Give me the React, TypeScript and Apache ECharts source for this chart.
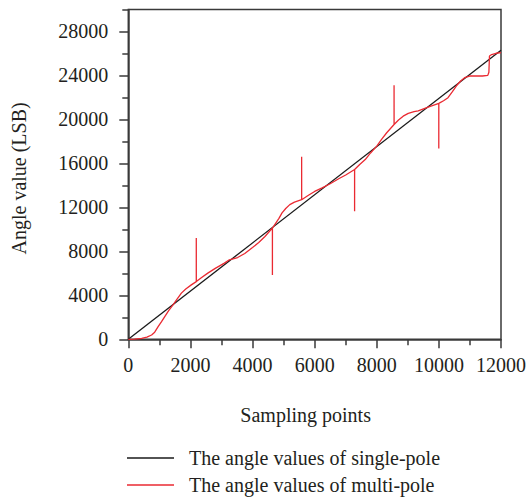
import React, { useEffect, useRef } from "react";
import * as echarts from "echarts";

const FONT = "'Liberation Serif', 'DejaVu Serif', serif";
const TEXT_COLOR = "#231f20";
const AXIS_COLOR = "#3a3a3a";

const seriesNames = ["The angle values of single-pole", "The angle values of multi-pole"];

// single-pole: straight line
const singlePoleX = [0, 12000];
const singlePoleY = [0, 26300];

// multi-pole: wavy curve with single-sample spikes
const multiPoleX = [
  0, 200, 430, 600, 750, 850, 960, 1070, 1174, 1300, 1440, 1570, 1709, 1850, 2029,
  2189, 2189, 2190, 2350, 2560, 2800, 3094, 3254, 3520, 3750, 4000, 4200, 4400,
  4640, 4640, 4641, 4850, 4950, 5069, 5200, 5350, 5581, 5581, 5582, 5800, 6000, 6240, 6500, 6774, 7000,
  7286, 7286, 7287, 7450, 7629, 7800, 8000, 8160, 8320, 8557, 8557, 8558, 8700, 8850, 9014, 9200, 9334, 9654,
  9997, 9997, 9998, 10150, 10294, 10430, 10560, 10700, 10829, 10989, 11200, 11400, 11574,
  11610, 11629, 11700, 11840, 12000,
];
const multiPoleY = [
  0, 20, 90, 200, 390, 650, 1150, 1600, 2060, 2600, 3130, 3650, 4200, 4580, 4950,
  5250, 9210, 5250, 5600, 6020, 6450, 6930, 7230, 7440, 7800, 8350, 8800, 9350,
  10120, 5860, 10120, 11000, 11500, 11900, 12250, 12480, 12700, 16600, 12700, 13100, 13450, 13770, 14150, 14600, 14950,
  15440, 11640, 15440, 15900, 16350, 16950, 17570, 18200, 18790, 19540, 23100, 19540, 19950, 20300, 20550, 20700, 20780, 21120,
  21460, 17355, 21460, 21700, 21980, 22500, 23040, 23500, 23800, 23950, 23970, 23950, 24010,
  24300, 25770, 25900, 26020, 26080,
];

const xMin = 0;
const xMax = 12000;
const xInterval = 2000;
const yMin = 0;
const yMax = 30000;
const yMajorTicks = [0, 4000, 8000, 12000, 16000, 20000, 24000, 28000];
const yMinorTicks = [2000, 6000, 10000, 14000, 18000, 22000, 26000, 30000];

export default function App() {
  const ref = useRef<HTMLDivElement>(null);
  useEffect(() => {
    if (!ref.current) return;
    const chart = echarts.init(ref.current, null, { renderer: "svg" });
    const single = singlePoleX.map((x, i) => [x, singlePoleY[i]]);
    const multi = multiPoleX.map((x, i) => [x, multiPoleY[i]]);
    const fmt = (v: number) => String(v);
    chart.setOption({
      animation: false,
      backgroundColor: "#ffffff",
      grid: {
        left: 128.3,
        right: 25.5,
        top: 9.5,
        bottom: 161.7,
        show: true,
        borderColor: AXIS_COLOR,
        borderWidth: 1.5,
      },
      legend: {
        orient: "vertical",
        left: 127,
        top: 448,
        padding: 0,
        itemWidth: 47,
        itemHeight: 1.6,
        itemGap: 7,
        icon: "rect",
        data: seriesNames,
        textStyle: {
          fontFamily: FONT,
          fontSize: 20,
          color: TEXT_COLOR,
          padding: [0, 0, 0, 10],
        },
      },
      xAxis: {
        type: "value",
        min: xMin,
        max: xMax,
        interval: xInterval,
        name: "Sampling points",
        nameLocation: "middle",
        nameGap: 66,
        nameTextStyle: {
          fontFamily: FONT,
          fontSize: 20,
          color: TEXT_COLOR,
          padding: [0, 18, 0, 0],
        },
        axisLine: { show: true, onZero: false, lineStyle: { color: AXIS_COLOR, width: 1.5 } },
        axisTick: { show: true, length: 9, lineStyle: { color: AXIS_COLOR, width: 1.5 } },
        minorTick: { show: true, splitNumber: 2, length: 6, lineStyle: { color: AXIS_COLOR, width: 1.5 } },
        splitLine: { show: false },
        minorSplitLine: { show: false },
        axisLabel: { fontFamily: FONT, fontSize: 20, color: TEXT_COLOR, margin: 16, formatter: fmt },
      },
      yAxis: [
        {
          type: "value",
          min: yMin,
          max: yMax,
          position: "left",
          name: "Angle value (LSB)",
          nameLocation: "middle",
          nameGap: 99,
          nameTextStyle: {
            fontFamily: FONT,
            fontSize: 20,
            color: TEXT_COLOR,
            padding: [0, 8, 0, 0],
          },
          axisLine: { show: true, onZero: false, lineStyle: { color: AXIS_COLOR, width: 1.5 } },
          axisTick: {
            show: true,
            length: 9,
            customValues: yMajorTicks,
            lineStyle: { color: AXIS_COLOR, width: 1.5 },
          },
          splitLine: { show: false },
          axisLabel: {
            fontFamily: FONT,
            fontSize: 20,
            color: TEXT_COLOR,
            margin: 20,
            customValues: yMajorTicks,
            formatter: fmt,
          },
        },
        {
          type: "value",
          min: yMin,
          max: yMax,
          position: "left",
          axisLine: { show: false },
          axisTick: {
            show: true,
            length: 6,
            customValues: yMinorTicks,
            lineStyle: { color: AXIS_COLOR, width: 1.5 },
          },
          axisLabel: { show: false },
          splitLine: { show: false },
        },
      ],
      series: [
        {
          name: seriesNames[0],
          type: "line",
          yAxisIndex: 0,
          data: single,
          showSymbol: false,
          symbol: "none",
          lineStyle: { color: "#1a1a1a", width: 1.3 },
          itemStyle: { color: "#1a1a1a" },
        },
        {
          name: seriesNames[1],
          type: "line",
          yAxisIndex: 0,
          data: multi,
          showSymbol: false,
          symbol: "none",
          lineStyle: { color: "#ea2a32", width: 1.3 },
          itemStyle: { color: "#ea2a32" },
        },
      ],
    });
    return () => chart.dispose();
  }, []);
  return (
    <div
      ref={ref}
      style={{ position: "absolute", left: 0, top: 0, width: 529, height: 501 }}
    />
  );
}
